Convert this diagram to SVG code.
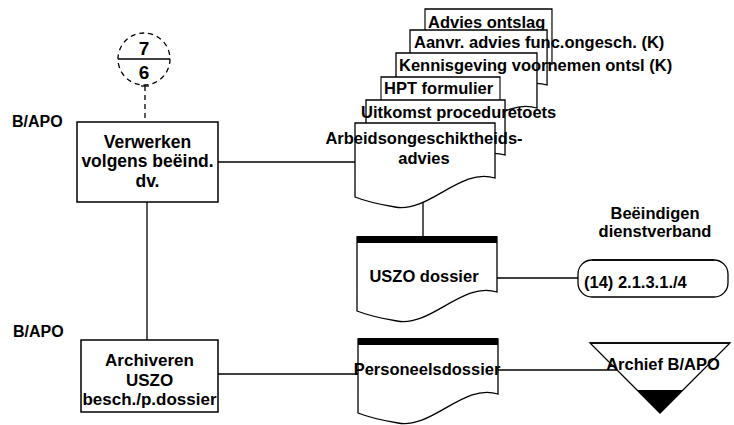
<svg xmlns="http://www.w3.org/2000/svg" width="734" height="425" viewBox="0 0 734 425">
<style>
text{font-family:"Liberation Sans",Arial,sans-serif;font-weight:bold;font-size:16.5px;fill:#000}
.c{text-anchor:middle}
.bx{font-size:17.5px}
.box{fill:#fff;stroke:#000;stroke-width:1.5}
.doc{fill:#fff;stroke:#000;stroke-width:1.3}
.ln{stroke:#000;stroke-width:1.3;fill:none}
.dash{stroke:#000;stroke-width:1.3;fill:none;stroke-dasharray:5 4}
.bar{fill:#000}
</style>
<defs>
<path id="docshape" d="M0,0 H140 V55 C105,44 75,90 40,84 C22,81 10,78 0,74 Z"/>
</defs>
<rect width="734" height="425" fill="#fff"/>

<g id="connectors">
<line class="dash" x1="145" y1="86" x2="145" y2="122"/>
<line class="ln" x1="141" y1="86" x2="149" y2="86"/>
<line class="ln" x1="218" y1="162" x2="355" y2="162"/>
<line class="ln" x1="147" y1="202" x2="147" y2="340"/>
<line class="ln" x1="423" y1="200" x2="423" y2="237"/>
<line class="ln" x1="497" y1="278" x2="578" y2="278"/>
<line class="ln" x1="218" y1="374" x2="358" y2="374"/>
<line class="ln" x1="497" y1="370" x2="617" y2="370"/>
</g>

<g id="ref-7-6">
<circle class="dash" cx="144" cy="59" r="26"/>
<line class="ln" x1="118" y1="59" x2="170" y2="59"/>
<text class="c" x="144" y="55" style="font-size:19px">7</text>
<text class="c" x="144" y="79" style="font-size:19px">6</text>
</g>

<g id="role1"><text x="12" y="127" style="font-size:16px">B/APO</text></g>
<g id="role2"><text x="13" y="337" style="font-size:16px">B/APO</text></g>

<g id="verwerken">
<rect class="box" x="77" y="122" width="141" height="80"/>
<text class="c bx" x="147.5" y="148">Verwerken</text>
<text class="c bx" x="147.5" y="167">volgens beëind.</text>
<text class="c bx" x="147.5" y="187">dv.</text>
</g>

<g id="archiveren">
<rect class="box" x="81" y="340" width="137" height="72"/>
<text class="c" x="149.5" y="366" style="font-size:17px">Archiveren</text>
<text class="c" x="149.5" y="386" style="font-size:17px">USZO</text>
<text class="c" x="149.5" y="405" style="font-size:17px">besch./p.dossier</text>
</g>

<g id="doc-advies-ontslag">
<use href="#docshape" class="doc" transform="translate(425,9) scale(0.907,1)"/>
<text x="428" y="28">Advies ontslag</text>
</g>
<g id="doc-aanvr">
<use href="#docshape" class="doc" transform="translate(410,30) scale(0.979,1)"/>
<text x="414" y="48">Aanvr. advies func.ongesch. (K)</text>
</g>
<g id="doc-kennisgeving">
<use href="#docshape" class="doc" transform="translate(396,53) scale(1.007,1)"/>
<text x="399" y="71">Kennisgeving voornemen ontsl (K)</text>
</g>
<g id="doc-hpt">
<use href="#docshape" class="doc" transform="translate(381,77) scale(0.85,1)"/>
<text x="384" y="94">HPT formulier</text>
</g>
<g id="doc-uitkomst">
<use href="#docshape" class="doc" transform="translate(366,100) scale(0.993,1)"/>
<text x="361" y="118">Uitkomst proceduretoets</text>
</g>
<g id="doc-arbeids">
<use href="#docshape" class="doc" transform="translate(355,123)"/>
<text class="c" x="424" y="144">Arbeidsongeschiktheids-</text>
<text class="c" x="424" y="164">advies</text>
</g>

<g id="doc-uszo">
<use href="#docshape" class="doc" transform="translate(357,237)"/>
<rect class="bar" x="357" y="236" width="140" height="7"/>
<text class="c" x="424" y="282">USZO dossier</text>
</g>

<g id="doc-personeel">
<use href="#docshape" class="doc" transform="translate(358,339)"/>
<rect class="bar" x="358" y="338" width="140" height="7"/>
<text class="c" x="427" y="375">Personeelsdossier</text>
</g>

<g id="proc-beeindigen">
<text class="c" x="655" y="219">Beëindigen</text>
<text class="c" x="655" y="237">dienstverband</text>
<rect x="578" y="260" width="150" height="37" rx="14" fill="#fff" stroke="#000" stroke-width="1.3"/>
<line class="ln" x1="592" y1="260" x2="714" y2="260" stroke-width="2"/>
<text x="584" y="288">(14) 2.1.3.1./4</text>
</g>

<g id="archief">
<polygon points="590,343 730,343 660,413" fill="#fff" stroke="#000" stroke-width="1.3"/>
<line class="ln" x1="590" y1="343" x2="730" y2="343" stroke-width="2"/>
<polygon points="637,390 683,390 660,413" fill="#000"/>
<text class="c" x="663" y="370">Archief B/APO</text>
</g>
</svg>
